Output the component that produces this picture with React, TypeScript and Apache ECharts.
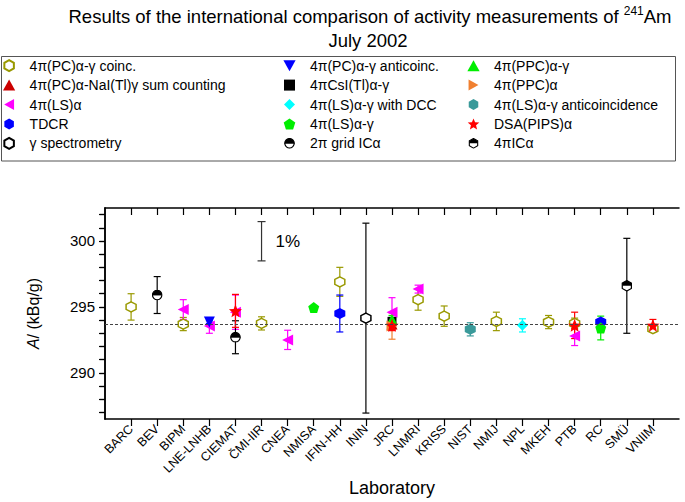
import React, { useEffect, useRef } from 'react';
import * as echarts from 'echarts';

// ---------- data ----------
const labs = ['BARC', 'BEV', 'BIPM', 'LNE-LNHB', 'CIEMAT', 'ČMI-IIR', 'CNEA', 'NMISA', 'IFIN-HH', 'ININ', 'JRC', 'LNMRI', 'KRISS', 'NIST', 'NMIJ', 'NPL', 'MKEH', 'PTB', 'RC', 'SMÜ', 'VNIIM'];

type Pt = [string, number, number]; // lab, value, uncertainty

const pcCoinc: Pt[] = [['BARC', 295.0, 1.0], ['BIPM', 293.7, 0.5], ['ČMI-IIR', 293.75, 0.5], ['IFIN-HH', 296.9, 1.1], ['LNMRI', 295.55, 0.8], ['KRISS', 294.3, 0.77], ['NMIJ', 293.9, 0.7], ['MKEH', 293.85, 0.5], ['PTB', 293.75, 0.4], ['VNIIM', 293.35, 0.2]];
const pcNaISum: Pt[] = [['JRC', 293.7, 0.4]];
const lsAlpha: Pt[] = [['BIPM', 294.8, 0.75], ['LNE-LNHB', 293.55, 0.55], ['CIEMAT', 294.6, 1.3], ['CNEA', 292.5, 0.73], ['JRC', 294.6, 1.1], ['LNMRI', 296.35, 0.3], ['PTB', 292.8, 0.73]];
const tdcr: Pt[] = [['IFIN-HH', 294.5, 1.4], ['RC', 293.85, 0.2]];
const gammaSpec: Pt[] = [['ININ', 294.15, 7.2]];
const pcAnti: Pt[] = [['LNE-LNHB', 293.85, 0.1]];
const csi: Pt[] = [['JRC', 293.9, 0.3]];
const lsDcc: Pt[] = [['NPL', 293.6, 0.5]];
const lsAlphaGamma: Pt[] = [['NMISA', 294.95, 0.15], ['RC', 293.4, 0.9]];
const grid2pi: Pt[] = [['BEV', 295.9, 1.4], ['CIEMAT', 292.7, 1.25]];
const ppcAlphaGamma: Pt[] = [['JRC', 294.05, 0.3]];
const ppcAlpha: Pt[] = [['JRC', 293.55, 1.0]];
const lsAnti: Pt[] = [['NIST', 293.3, 0.5]];
const dsaPips: Pt[] = [['CIEMAT', 294.7, 1.25], ['JRC', 293.6, 0.4], ['PTB', 293.6, 1.0], ['VNIIM', 293.6, 0.45]];
const ic4pi: Pt[] = [['SMÜ', 296.6, 3.6]];

const referenceValue = 293.7;
const onePercentBar: [number, number, number] = [6, 299.98, 1.49]; // x position, centre, half-length
const yLabelValues = [290, 295, 300];
const yTickValues = [287, 288, 289, 290, 291, 292, 293, 294, 295, 296, 297, 298, 299, 300, 301, 302];

// ---------- symbols ----------
const hex = 'path://M5,0L9.33,2.5L9.33,7.5L5,10L0.67,7.5L0.67,2.5Z';
const triUp = 'path://M5,0L10,9L0,9Z';
const triDown = 'path://M0,0L10,0L5,9Z';
const triLeft = 'path://M9,0L9,10L0,5Z';
const triRight = 'path://M0,0L0,10L9,5Z';
const square = 'path://M0,0L10,0L10,10L0,10Z';
const diamond = 'path://M5,0L10,5L5,10L0,5Z';
const pentagon = 'path://M5,0L10,3.6L8.1,9.5L1.9,9.5L0,3.6Z';
const star = 'path://M5,0L6.3,3.2L9.76,3.46L7.1,5.7L7.94,9.05L5,7.2L2.06,9.05L2.9,5.7L0.24,3.46L3.7,3.2Z';
const svgImg = (s: string) => 'image://data:image/svg+xml;charset=utf-8,' + encodeURIComponent(s);
const halfCircle = svgImg("<svg xmlns='http://www.w3.org/2000/svg' width='20' height='20' viewBox='0 0 20 20'><circle cx='10' cy='10' r='8.6' fill='white' stroke='black' stroke-width='2.2'/><path d='M1.4 10 A8.6 8.6 0 0 1 18.6 10 Z' fill='black'/><line x1='1' y1='10' x2='19' y2='10' stroke='black' stroke-width='1.5'/></svg>");
const halfHex = svgImg("<svg xmlns='http://www.w3.org/2000/svg' width='20' height='20' viewBox='0 0 20 20'><path d='M10 1.2L17.6 5.6L17.6 14.4L10 18.8L2.4 14.4L2.4 5.6Z' fill='white' stroke='black' stroke-width='2'/><path d='M10 1.2L17.6 5.6L17.6 10L2.4 10L2.4 5.6Z' fill='black'/></svg>");

interface Method { name: string; pts: Pt[]; symbol: string; size: number; color: string; fill?: string; }
const methods: Method[] = [
  { name: '4π(PC)α-γ coinc.', pts: pcCoinc, symbol: hex, size: 10, color: '#999900', fill: '#ffffff' },
  { name: '4π(PC)α-NaI(Tl)γ sum counting', pts: pcNaISum, symbol: triUp, size: 11, color: '#cc0000' },
  { name: '4π(LS)α', pts: lsAlpha, symbol: triLeft, size: 11, color: '#ff00ff' },
  { name: 'TDCR', pts: tdcr, symbol: hex, size: 11, color: '#0000ff' },
  { name: 'γ spectrometry', pts: gammaSpec, symbol: hex, size: 10, color: '#000000', fill: '#ffffff' },
  { name: '4π(PC)α-γ anticoinc.', pts: pcAnti, symbol: triDown, size: 11, color: '#0000ff' },
  { name: '4πCsI(Tl)α-γ', pts: csi, symbol: square, size: 9, color: '#000000' },
  { name: '4π(LS)α-γ with DCC', pts: lsDcc, symbol: diamond, size: 11, color: '#00ffff' },
  { name: '4π(LS)α-γ', pts: lsAlphaGamma, symbol: pentagon, size: 11, color: '#00ee00' },
  { name: '2π grid ICα', pts: grid2pi, symbol: halfCircle, size: 11, color: '#000000' },
  { name: '4π(PPC)α-γ', pts: ppcAlphaGamma, symbol: triUp, size: 11, color: '#00ee00' },
  { name: '4π(PPC)α', pts: ppcAlpha, symbol: triRight, size: 11, color: '#f08030' },
  { name: '4π(LS)α-γ anticoincidence', pts: lsAnti, symbol: hex, size: 11, color: '#3a9a9a' },
  { name: 'DSA(PIPS)α', pts: dsaPips, symbol: star, size: 13, color: '#ff0000' },
  { name: '4πICα', pts: ic4pi, symbol: halfHex, size: 12, color: '#000000' },
];
const legendCols = [
  ['4π(PC)α-γ coinc.', '4π(PC)α-NaI(Tl)γ sum counting', '4π(LS)α', 'TDCR', 'γ spectrometry'],
  ['4π(PC)α-γ anticoinc.', '4πCsI(Tl)α-γ', '4π(LS)α-γ with DCC', '4π(LS)α-γ', '2π grid ICα'],
  ['4π(PPC)α-γ', '4π(PPC)α', '4π(LS)α-γ anticoincidence', 'DSA(PIPS)α', '4πICα'],
];

const FONT = "'Liberation Sans', Arial, sans-serif";
const labIdx = (l: string) => labs.indexOf(l) + 1;

function errRender(color: string, cap: number, label?: string) {
  return (params: any, api: any) => {
    const x = api.value(0), y = api.value(1), e = api.value(2);
    const t = api.coord([x, y + e]);
    const b = api.coord([x, y - e]);
    const style = { stroke: color, lineWidth: 1.2 };
    const children: any[] = [
      { type: 'line', shape: { x1: t[0], y1: t[1], x2: b[0], y2: b[1] }, style },
      { type: 'line', shape: { x1: t[0] - cap, y1: t[1], x2: t[0] + cap, y2: t[1] }, style },
      { type: 'line', shape: { x1: b[0] - cap, y1: b[1], x2: b[0] + cap, y2: b[1] }, style },
    ];
    if (label) {
      children.push({ type: 'text', x: t[0] + 14, y: (t[1] + b[1]) / 2, style: { text: label, fill: '#000', font: `17px ${FONT}`, verticalAlign: 'middle', align: 'left' } });
    }
    return { type: 'group', children };
  };
}

export default function App() {
  const ref = useRef<HTMLDivElement>(null);
  useEffect(() => {
    const chart = echarts.init(ref.current!, undefined, { renderer: 'svg' });
    const series: any[] = [];
    methods.forEach((m) => {
      series.push({
        type: 'custom', name: m.name + ' (u)', silent: true, z: 2,
        renderItem: errRender(m.color, 3.5),
        data: m.pts.map((p) => [labIdx(p[0]), p[1], p[2]]),
        encode: { x: 0, y: 1 },
      });
    });
    methods.forEach((m) => {
      series.push({
        type: 'scatter', name: m.name, z: 3,
        symbol: m.symbol, symbolSize: m.size,
        itemStyle: m.fill ? { color: m.fill, borderColor: m.color, borderWidth: 1.5, opacity: 1 } : { color: m.color, opacity: 1 },
        data: m.pts.map((p) => [labIdx(p[0]), p[1]]),
      });
    });
    series.push({
      type: 'custom', name: 'scale', silent: true, z: 2,
      renderItem: errRender('#333', 4, '1%'),
      data: [onePercentBar], encode: { x: 0, y: 1 },
    });
    series.push({
      type: 'line', name: 'ref', data: [], silent: true,
      markLine: { silent: true, symbol: 'none', label: { show: false }, lineStyle: { type: [3, 2], color: '#444', width: 1 }, data: [{ yAxis: referenceValue }] },
    });

    const legendBase = {
      orient: 'vertical', top: 57.7, padding: 0, itemWidth: 31, itemHeight: 11, itemGap: 3.4,
      selectedMode: false,
      textStyle: { fontSize: 14, fontFamily: FONT, color: '#000', lineHeight: 16 },
    };
    const labTicks = labs.map((_, i) => i + 1);
    const option: any = {
      animation: false,
      textStyle: { fontFamily: FONT },
      title: [
        { text: 'Results of the international comparison of activity measurements of {sup|241}Am', left: 370, textAlign: 'center', top: 5, padding: 0,
          textStyle: { fontSize: 18.5, fontWeight: 'normal', color: '#000', fontFamily: FONT, rich: { sup: { fontSize: 12, verticalAlign: 'top', padding: [0, 0, 10, 0], fontFamily: FONT } } } },
        { text: 'July 2002', left: 368, textAlign: 'center', top: 31, padding: 0, textStyle: { fontSize: 18.5, fontWeight: 'normal', color: '#000', fontFamily: FONT } },
      ],
      legend: legendCols.map((col, i) => ({ ...legendBase, left: [3, 274, 458][i], data: col })),
      graphic: [
        { type: 'rect', shape: { x: 1.5, y: 56.5, width: 674, height: 104.5 }, style: { fill: 'none', stroke: '#555', lineWidth: 1 }, silent: true },
      ],
      grid: { left: 105, right: 6, top: 208, bottom: 83 },
      xAxis: [
        {
          type: 'value', min: 0, max: 22, position: 'bottom',
          name: 'Laboratory', nameLocation: 'middle', nameGap: 60,
          nameTextStyle: { fontSize: 18, color: '#000', fontFamily: FONT },
          axisLine: { show: true, lineStyle: { color: '#000', width: 1.5 } },
          axisTick: { show: true, inside: false, length: 7, customValues: labTicks, lineStyle: { color: '#000', width: 1.2 } },
          axisLabel: { customValues: labTicks, rotate: 45, fontSize: 12.5, color: '#000', margin: 8, fontFamily: FONT, formatter: (v: number) => labs[Math.round(v) - 1] || '' },
          splitLine: { show: false },
        },
        {
          type: 'value', min: 0, max: 22, position: 'top',
          axisLine: { show: true, lineStyle: { color: '#000', width: 1.5 } },
          axisTick: { show: true, inside: true, length: 7, customValues: labTicks, lineStyle: { color: '#000', width: 1.2 } },
          axisLabel: { show: false }, splitLine: { show: false },
        },
      ],
      yAxis: [
        {
          type: 'value', min: 286.5, max: 302.5, position: 'left',
          name: '{i|A}/ (kBq/g)', nameLocation: 'middle', nameGap: 64, nameRotate: 90,
          nameTextStyle: { fontSize: 16, color: '#000', fontFamily: FONT, rich: { i: { fontStyle: 'italic', fontSize: 16, fontFamily: FONT } } },
          axisLine: { show: true, lineStyle: { color: '#000', width: 1.5 } },
          axisTick: { show: true, inside: false, length: 5, customValues: yTickValues, lineStyle: { color: '#000', width: 1.2 } },
          axisLabel: { customValues: yLabelValues, fontSize: 15, color: '#000', margin: 10, fontFamily: FONT },
          splitLine: { show: false },
        },
        {
          type: 'value', min: 286.5, max: 302.5, position: 'right',
          axisLine: { show: true, lineStyle: { color: '#000', width: 1.5 } },
          axisTick: { show: true, inside: true, length: 6, customValues: yTickValues, lineStyle: { color: '#000', width: 1.2 } },
          axisLabel: { show: false }, splitLine: { show: false },
        },
      ],
      series,
    };
    chart.setOption(option);
    return () => chart.dispose();
  }, []);
  return <div ref={ref} style={{ position: 'fixed', left: 0, top: 0, width: 685, height: 502, background: '#fff' }} />;
}
